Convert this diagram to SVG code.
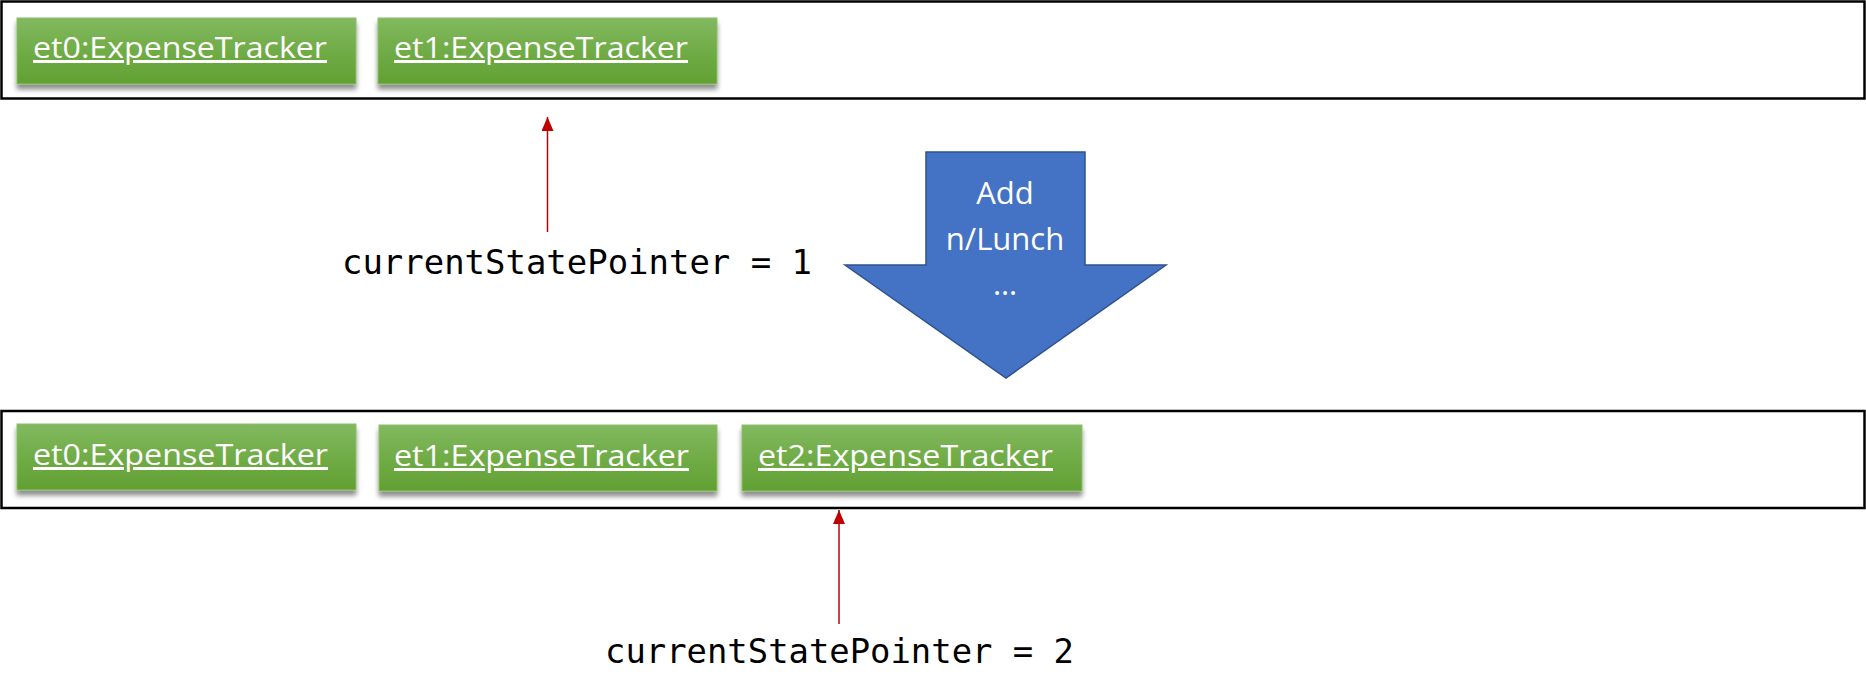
<svg xmlns="http://www.w3.org/2000/svg" width="1866" height="697" viewBox="0 0 1866 697">
<style>
.frame{fill:#fff;stroke:#000;stroke-width:2.5}
.obj{fill:url(#g);stroke:#8cc06a;stroke-width:1;filter:url(#sh)}
.lbl{font-family:"Open Sans","Liberation Sans",Arial,sans-serif;font-size:30px;fill:#fff;text-decoration:underline}
.ptr{font-family:"DejaVu Sans Mono","Liberation Mono",monospace;font-size:33px;fill:#000}
.conn{stroke:#c00000;stroke-width:1.5;fill:none;marker-end:url(#ah)}
.cmd{font-family:"Open Sans","Liberation Sans",Arial,sans-serif;font-size:31px;fill:#fff;text-anchor:middle}
</style>
<defs>
<linearGradient id="g" x1="0" y1="0" x2="0" y2="1">
<stop offset="0" stop-color="#82b960"/>
<stop offset="0.5" stop-color="#70ac46"/>
<stop offset="1" stop-color="#62a033"/>
</linearGradient>
<filter id="sh" x="-5%" y="-10%" width="110%" height="140%">
<feGaussianBlur in="SourceAlpha" stdDeviation="2.5"/>
<feOffset dx="0" dy="5" result="b"/>
<feComponentTransfer><feFuncA type="linear" slope="0.45"/></feComponentTransfer>
<feMerge><feMergeNode/><feMergeNode in="SourceGraphic"/></feMerge>
</filter>
<marker id="ah" markerWidth="14" markerHeight="12" refX="14" refY="6" orient="auto" markerUnits="userSpaceOnUse" viewBox="0 0 14 12">
<path d="M0,0 L14,6 L0,12 Z" fill="#c00000"/>
</marker>
</defs>
<rect width="1866" height="697" fill="#fff"/>
<g id="frame-top"><rect class="frame" x="1.5" y="1.5" width="1863" height="97"/></g>
<g id="frame-bottom"><rect class="frame" x="1.5" y="411" width="1863" height="97"/></g>
<g id="top-et0"><rect class="obj" x="17" y="18" width="339" height="66"/><text class="lbl" x="33" y="58" textLength="294" lengthAdjust="spacingAndGlyphs">et0:ExpenseTracker</text></g>
<g id="top-et1"><rect class="obj" x="378" y="18" width="339" height="66"/><text class="lbl" x="394" y="58" textLength="294" lengthAdjust="spacingAndGlyphs">et1:ExpenseTracker</text></g>
<g id="bot-et0"><rect class="obj" x="17" y="424" width="339" height="66"/><text class="lbl" x="33" y="465" textLength="295" lengthAdjust="spacingAndGlyphs">et0:ExpenseTracker</text></g>
<g id="bot-et1"><rect class="obj" x="379" y="425" width="338" height="66"/><text class="lbl" x="394" y="466" textLength="295" lengthAdjust="spacingAndGlyphs">et1:ExpenseTracker</text></g>
<g id="bot-et2"><rect class="obj" x="742" y="425" width="340" height="66"/><text class="lbl" x="758" y="466" textLength="295" lengthAdjust="spacingAndGlyphs">et2:ExpenseTracker</text></g>
<g id="ptr1"><text class="ptr" x="342" y="274" textLength="470" lengthAdjust="spacingAndGlyphs">currentStatePointer = 1</text></g>
<g id="ptr2"><text class="ptr" x="605" y="663" textLength="469" lengthAdjust="spacingAndGlyphs">currentStatePointer = 2</text></g>
<g id="command">
<path d="M926,152 L1085,152 L1085,265 L1166,265 L1006,378 L845,265 L926,265 Z" fill="#4472c4" stroke="#2f528f" stroke-width="1.5"/>
<text class="cmd" x="1005" y="204">Add</text>
<text class="cmd" x="1005" y="250">n/Lunch</text>
<text class="cmd" x="1005" y="295">…</text>
</g>
<g id="connectors">
<line class="conn" x1="547.5" y1="232" x2="547.5" y2="117"/>
<line class="conn" x1="839" y1="624" x2="839" y2="510"/>
</g>
</svg>
